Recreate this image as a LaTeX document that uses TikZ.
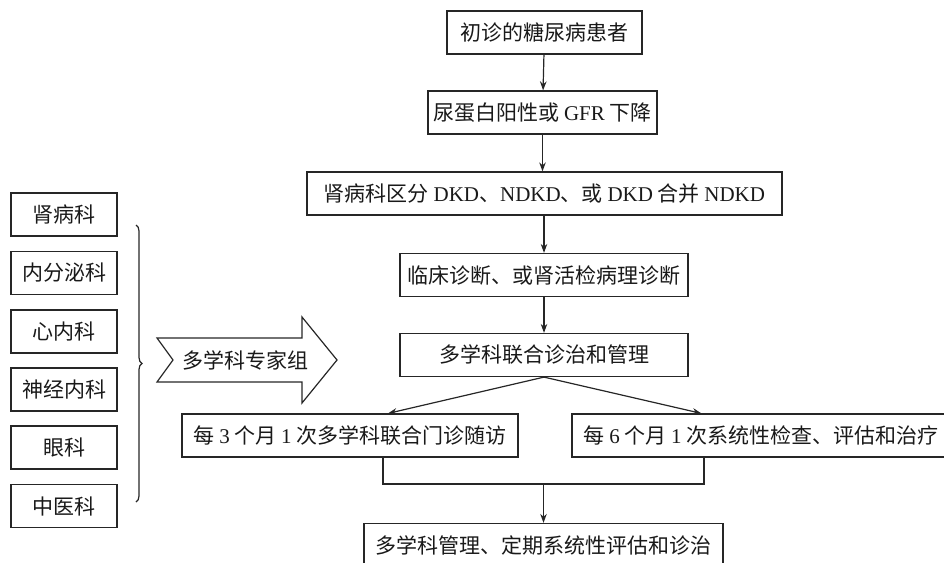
\documentclass[tikz,border=0pt]{standalone}
\usepackage{fontspec}
\setmainfont{Liberation Serif}
\newfontfamily\cjk{Noto Sans CJK SC}
\usetikzlibrary{arrows.meta,decorations.pathreplacing,calc}
\newcommand\latn[1]{{\rmfamily #1}}

\begin{document}
\begin{tikzpicture}[x=1pt,y=-1pt,>={Stealth[length=9pt,width=6.5pt]}]
\tikzset{every node/.style={font=\cjk\fontsize{21}{25}\selectfont, text=black!90}}
\tikzset{box/.style={draw=black!85, line width=1.2pt, minimum height=43pt, inner sep=0pt}}
\tikzset{link/.style={draw=black!85, line width=1.2pt}}
\useasboundingbox (0,0) rectangle (944,562);

        % main column
        \node[box, minimum width=195pt] (first) at (544.5,32.5) {初诊的糖尿病患者};
        \node[box, minimum width=229pt] (urine) at (542.5,112.5) {尿蛋白阳性或 \latn{GFR} 下降};
        \node[box, minimum width=475pt] (nephro) at (544.5,193.5) {肾病科区分 \latn{DKD}、\latn{NDKD}、或 \latn{DKD} 合并 \latn{NDKD}};
        \node[box, minimum width=288pt] (diag) at (544,275) {临床诊断、或肾活检病理诊断};
        \node[box, minimum width=288pt] (mdt) at (544,355) {多学科联合诊治和管理};
        \node[box, minimum width=336pt] (visit) at (350,435.5) {每 \latn{3} 个月 \latn{1} 次多学科联合门诊随访};
        \node[box, minimum width=378pt] (check) at (761,435.5) {每 \latn{6} 个月 \latn{1} 次系统性检查、评估和治疗};
        \node[box, minimum width=359pt] (final) at (543.5,545) {多学科管理、定期系统性评估和诊治};

        \draw[link,->] (first) -- (urine);
        \draw[link,->] (urine.south) -- (urine.south |- nephro.north);
        \draw[link,->] (nephro.south -| diag.north) -- (diag.north);
        \draw[link,->] (diag) -- (mdt);
        \draw[link,->] (mdt.south) -- ($(visit.north)+(38,0)$);
        \draw[link,->] (mdt.south) -- ($(check.north west)+(130,0)$);

        \coordinate (joinL) at (383,484);
        \coordinate (joinR) at (704,484);
        \draw[link] (visit.south -| joinL) -- (joinL) -- (joinR) -- (check.south -| joinR);
        \draw[link,->] (final.north |- joinL) -- (final.north);

        % departments
        \node[box, minimum width=106pt] (dep1) at (64,214.5) {肾病科};
        \node[box, minimum width=106pt] (dep2) at (64,273) {内分泌科};
        \node[box, minimum width=106pt] (dep3) at (64,331.5) {心内科};
        \node[box, minimum width=106pt] (dep4) at (64,389.5) {神经内科};
        \node[box, minimum width=106pt] (dep5) at (64,447.5) {眼科};
        \node[box, minimum width=106pt] (dep6) at (64,506) {中医科};

        \draw[link, decorate, decoration={brace, amplitude=6pt}] (136,225) -- (136,502);

        % team arrow
        \draw[link] (157,338) -- (302,338) -- (302,317) -- (337,360) -- (302,403)
                -- (302,382) -- (157,382) -- (173,360) -- cycle;
        \node (team) at (245,360) {多学科专家组};
\end{tikzpicture}
\end{document}
